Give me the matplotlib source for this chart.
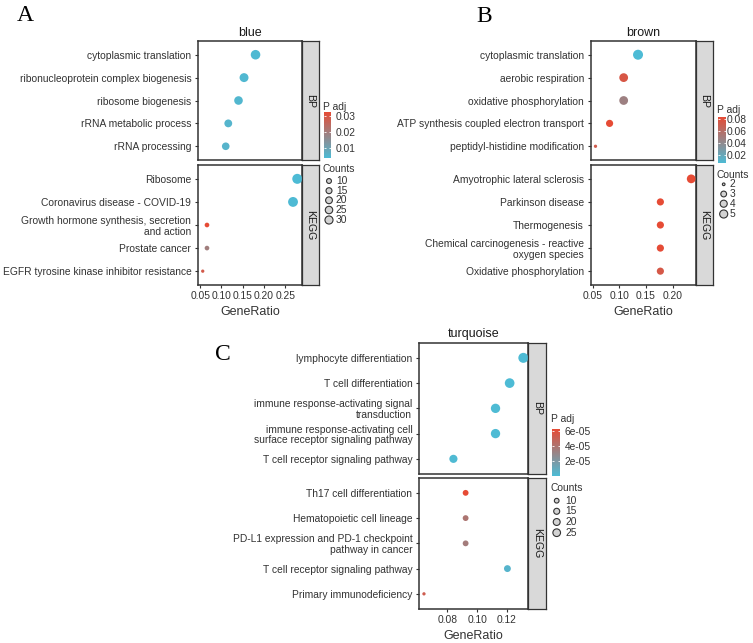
import numpy as np
import matplotlib
matplotlib.use("Agg")
import matplotlib.pyplot as plt
from matplotlib.colors import LinearSegmentedColormap, Normalize
from matplotlib.cm import ScalarMappable

plt.rcParams['font.family'] = ['Liberation Sans', 'DejaVu Sans']

W, H = 753, 643

# ---- panel A : blue module ----
a_bp_terms = ["cytoplasmic translation", "ribonucleoprotein complex biogenesis",
              "ribosome biogenesis", "rRNA metabolic process", "rRNA processing"]
a_bp_ratio = [0.180, 0.153, 0.140, 0.116, 0.110]
a_bp_count = [27, 23, 21, 17, 16]
a_bp_padj = [0.0045, 0.0047, 0.0050, 0.0055, 0.0058]
a_kegg_terms = ["Ribosome", "Coronavirus disease - COVID-19",
                "Growth hormone synthesis, secretion\nand action", "Prostate cancer",
                "EGFR tyrosine kinase inhibitor resistance"]
a_kegg_ratio = [0.278, 0.268, 0.066, 0.066, 0.056]
a_kegg_count = [30, 29, 7, 7, 6]
a_kegg_padj = [0.0040, 0.0043, 0.0323, 0.0195, 0.0285]
a_xticks = [0.05, 0.10, 0.15, 0.20, 0.25]
a_cbar_ticks = [0.01, 0.02, 0.03]
a_cbar_labels = ["0.01", "0.02", "0.03"]
a_count_breaks = [10, 15, 20, 25, 30]

# ---- panel B : brown module ----
b_bp_terms = ["cytoplasmic translation", "aerobic respiration", "oxidative phosphorylation",
              "ATP synthesis coupled electron transport", "peptidyl-histidine modification"]
b_bp_ratio = [0.135, 0.108, 0.108, 0.0815, 0.055]
b_bp_count = [5, 4, 4, 3, 2]
b_bp_padj = [0.0062, 0.076, 0.047, 0.0838, 0.072]
b_kegg_terms = ["Amyotrophic lateral sclerosis", "Parkinson disease", "Thermogenesis",
                "Chemical carcinogenesis - reactive\noxygen species", "Oxidative phosphorylation"]
b_kegg_ratio = [0.235, 0.177, 0.177, 0.177, 0.177]
b_kegg_count = [4, 3, 3, 3, 3]
b_kegg_padj = [0.0838, 0.0835, 0.0835, 0.0832, 0.075]
b_xticks = [0.05, 0.10, 0.15, 0.20]
b_cbar_ticks = [0.02, 0.04, 0.06, 0.08]
b_cbar_labels = ["0.02", "0.04", "0.06", "0.08"]
b_count_breaks = [2, 3, 4, 5]

# ---- panel C : turquoise module ----
c_bp_terms = ["lymphocyte differentiation", "T cell differentiation",
              "immune response-activating signal\ntransduction",
              "immune response-activating cell\nsurface receptor signaling pathway",
              "T cell receptor signaling pathway"]
c_bp_ratio = [0.131, 0.1218, 0.1123, 0.1123, 0.084]
c_bp_count = [28, 26, 24, 24, 18]
c_bp_padj = [2.1e-7, 3.4e-7, 5.0e-7, 5.2e-7, 1.1e-6]
c_kegg_terms = ["Th17 cell differentiation", "Hematopoietic cell lineage",
                "PD-L1 expression and PD-1 checkpoint\npathway in cancer",
                "T cell receptor signaling pathway", "Primary immunodeficiency"]
c_kegg_ratio = [0.0922, 0.0922, 0.0922, 0.1203, 0.0642]
c_kegg_count = [10, 10, 10, 13, 7]
c_kegg_padj = [6.23e-5, 3.9e-5, 3.5e-5, 4.0e-6, 5.2e-5]
c_xticks = [0.08, 0.10, 0.12]
c_cbar_ticks = [2e-5, 4e-5, 6e-5]
c_cbar_labels = ["2e-05", "4e-05", "6e-05"]
c_count_breaks = [10, 15, 20, 25]

cmap = LinearSegmentedColormap.from_list("padj", ["#4DBBD5", "#E64B35"])
D_MIN, D_MAX = 3.3, 10.0  # dot diameter range in pixels
TXT = '#333333'
EDGE = '#333333'
FS = 7.4

fig = plt.figure(figsize=(W / 100, H / 100), dpi=100)


def px_axes(x0, y0, x1, y1):
    return fig.add_axes([x0 / W, 1 - y1 / H, (x1 - x0) / W, (y1 - y0) / H])


def dot_size(counts, cmin, cmax):
    t = (np.asarray(counts, float) - cmin) / (cmax - cmin)
    d = D_MIN + (D_MAX - D_MIN) * np.sqrt(np.clip(t, 0, None))
    return (d * 72 / 100) ** 2


def draw_panel(ov, title, facets, xticks, cbar_ticks, cbar_labels, breaks, g):
    x0, x1, sx1 = g['x']
    all_ratio = np.concatenate([f[1] for f in facets])
    all_count = np.concatenate([f[2] for f in facets])
    all_padj = np.concatenate([f[3] for f in facets])
    lo, hi = all_ratio.min(), all_ratio.max()
    pad = (hi - lo) * 0.05
    cmin, cmax = all_count.min(), all_count.max()
    norm = Normalize(all_padj.min(), all_padj.max())

    for i, ((terms, ratio, count, padj, name), (y0, y1)) in enumerate(zip(facets, g['ys'])):
        ax = px_axes(x0, y0, x1, y1)
        ypos = np.arange(len(terms))
        ax.scatter(ratio, ypos, s=dot_size(count, cmin, cmax), c=padj, cmap=cmap,
                   norm=norm, edgecolors='none', zorder=3, clip_on=False)
        ax.set_xlim(lo - pad, hi + pad)
        ax.set_ylim(len(terms) - 0.4, -0.6)
        ax.set_yticks(ypos)
        ax.set_yticklabels(terms, linespacing=1.1)
        ax.tick_params(axis='both', length=2.5, width=0.8, color=EDGE, pad=2.3,
                       labelsize=FS, labelcolor=TXT)
        if i == len(facets) - 1:
            ax.set_xticks(xticks)
            ax.set_xticklabels(["%.2f" % v for v in xticks])
            ax.tick_params(axis='x', pad=1.5)
            ax.set_xlabel("GeneRatio", fontsize=9, color=TXT)
            ax.xaxis.set_label_coords(0.5, (y1 - g['xlab']) / (y1 - y0))
            ax.xaxis.label.set_va('center')
        else:
            ax.set_xticks([])
        for s in ax.spines.values():
            s.set_linewidth(1.1)
            s.set_color(EDGE)

        st = px_axes(x1, y0, sx1, y1)
        st.set_facecolor('#D9D9D9')
        st.set_xticks([])
        st.set_yticks([])
        for s in st.spines.values():
            s.set_linewidth(0.9)
            s.set_color(EDGE)
        st.text(0.5, 0.5, name, rotation=270, ha='center', va='center',
                fontsize=7.6, color='#1A1A1A', transform=st.transAxes)

    ov.text((x0 + x1) / 2, g['title'], title, ha='center', va='center',
            fontsize=9, color='#1A1A1A')

    # colour bar
    bx0, by0, bx1, by1 = g['bar']
    cax = px_axes(bx0, by0, bx1, by1)
    cb = fig.colorbar(ScalarMappable(norm=norm, cmap=cmap), cax=cax)
    cb.outline.set_visible(False)
    cb.set_ticks(cbar_ticks, labels=cbar_labels)
    cax.tick_params(direction='in', length=1.3, width=0.6, color='white', left=True,
                    right=True, labelsize=FS, labelcolor=TXT, pad=g['bar_pad'])
    ov.text(g['legx'], g['padj_y'], "P adj", ha='left', va='center', fontsize=FS, color=TXT)

    # counts legend
    ov.text(g['legx'], g['cnt_y'], "Counts", ha='left', va='center', fontsize=FS, color=TXT)
    ov.scatter([g['circ_x']] * len(breaks), g['item_y'],
               s=dot_size(breaks, cmin, cmax) * 0.65, facecolor='#D3D3D3',
               edgecolor=EDGE, linewidth=0.8, zorder=5)
    for b, yy in zip(breaks, g['item_y']):
        ov.text(g['lab_x'], yy, str(b), ha='left', va='center', fontsize=FS, color=TXT)


ov = fig.add_axes([0, 0, 1, 1], zorder=10)
ov.set_xlim(0, W)
ov.set_ylim(H, 0)
ov.axis('off')

geo_a = dict(x=(198, 302, 319), ys=[(41, 160), (165, 285)], title=33, xlab=312,
             bar=(323.5, 112, 331, 158), bar_pad=3.5, legx=323, padj_y=106.5, cnt_y=169,
             item_y=[181, 190.7, 200.3, 210, 220], circ_x=329, lab_x=336)
geo_b = dict(x=(590.7, 696, 713), ys=[(41, 160), (165, 285)], title=33, xlab=312,
             bar=(717.7, 116.7, 725.7, 163.3), bar_pad=1.0, legx=717, padj_y=110, cnt_y=175,
             item_y=[184.3, 194, 203.7, 214], circ_x=723.7, lab_x=729.5)
geo_c = dict(x=(419, 528.3, 546), ys=[(342.7, 474), (477.7, 609)], title=334.3, xlab=635.7,
             bar=(551.5, 429, 560, 475.7), bar_pad=3.5, legx=551, padj_y=419, cnt_y=488.3,
             item_y=[500.7, 511.3, 522, 532.7], circ_x=556.7, lab_x=565.5)

draw_panel(ov, "blue",
           [(a_bp_terms, a_bp_ratio, a_bp_count, a_bp_padj, "BP"),
            (a_kegg_terms, a_kegg_ratio, a_kegg_count, a_kegg_padj, "KEGG")],
           a_xticks, a_cbar_ticks, a_cbar_labels, a_count_breaks, geo_a)
draw_panel(ov, "brown",
           [(b_bp_terms, b_bp_ratio, b_bp_count, b_bp_padj, "BP"),
            (b_kegg_terms, b_kegg_ratio, b_kegg_count, b_kegg_padj, "KEGG")],
           b_xticks, b_cbar_ticks, b_cbar_labels, b_count_breaks, geo_b)
draw_panel(ov, "turquoise",
           [(c_bp_terms, c_bp_ratio, c_bp_count, c_bp_padj, "BP"),
            (c_kegg_terms, c_kegg_ratio, c_kegg_count, c_kegg_padj, "KEGG")],
           c_xticks, c_cbar_ticks, c_cbar_labels, c_count_breaks, geo_c)

# panel letters
for letter, lx, ly in [("A", 17, 21), ("B", 476.7, 22), ("C", 215, 360)]:
    ov.text(lx, ly, letter, ha='left', va='baseline', fontsize=17,
            family='Liberation Serif', color='black')

fig.savefig("out.png", dpi=100)
